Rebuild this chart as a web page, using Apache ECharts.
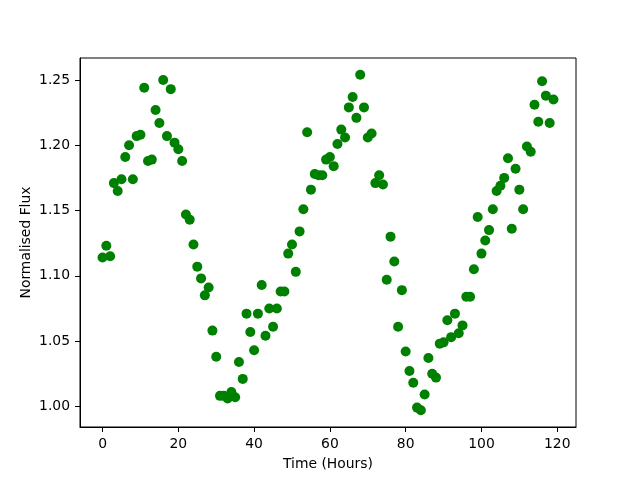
<!DOCTYPE html>
<html>
<head>
<meta charset="utf-8">
<script src="https://cdn.jsdelivr.net/npm/echarts@6/dist/echarts.min.js"></script>
<style>
  html, body { margin: 0; padding: 0; background: #fff; }
  #chart { width: 640px; height: 480px; }
</style>
</head>
<body>
<div id="chart"></div>
<script>
// hours 0..119
const hours = Array.from({ length: 120 }, (_, i) => i)

// normalised flux
const flux = [
  1.114, 1.123, 1.115, 1.171, 1.165, 1.174, 1.191, 1.200, 1.174, 1.207,
  1.208, 1.244, 1.188, 1.189, 1.227, 1.217, 1.250, 1.207, 1.243, 1.202,
  1.197, 1.188, 1.147, 1.143, 1.124, 1.107, 1.098, 1.085, 1.091, 1.058,
  1.038, 1.008, 1.008, 1.006, 1.011, 1.007, 1.034, 1.021, 1.071, 1.057,
  1.043, 1.071, 1.093, 1.054, 1.075, 1.061, 1.075, 1.088, 1.088, 1.117,
  1.124, 1.103, 1.134, 1.151, 1.210, 1.166, 1.178, 1.177, 1.177, 1.189,
  1.191, 1.184, 1.201, 1.212, 1.206, 1.229, 1.237, 1.221, 1.254, 1.229,
  1.206, 1.209, 1.171, 1.177, 1.170, 1.097, 1.130, 1.111, 1.061, 1.089,
  1.042, 1.027, 1.018, 0.999, 0.997, 1.009, 1.037, 1.025, 1.022, 1.048,
  1.049, 1.066, 1.053, 1.071, 1.056, 1.062, 1.084, 1.084, 1.105, 1.145,
  1.117, 1.127, 1.135, 1.151, 1.165, 1.169, 1.175, 1.190, 1.136, 1.182,
  1.166, 1.151, 1.199, 1.195, 1.231, 1.218, 1.249, 1.238, 1.217, 1.235
]

const xTicks = [0, 20, 40, 60, 80, 100, 120]
const yTicks = [1.00, 1.05, 1.10, 1.15, 1.20, 1.25]

const points = hours.map((h, i) => [h, flux[i]])

// matplotlib style 5% margins
const xPad = (hours[hours.length - 1] - hours[0]) * 0.05
const yMin = Math.min(...flux)
const yMax = Math.max(...flux)
const yPad = (yMax - yMin) * 0.05

const font = 'DejaVu Sans'
const chart = echarts.init(document.getElementById('chart'))

chart.setOption({
  animation: false,
  grid: {
    left: 80,
    right: 64,
    top: 58,
    bottom: 53,
    show: true,
    borderColor: '#000',
    borderWidth: 1,
    containLabel: false
  },
  xAxis: {
    type: 'value',
    min: hours[0] - xPad,
    max: hours[hours.length - 1] + xPad,
    name: 'Time (Hours)',
    nameLocation: 'middle',
    nameGap: 30,
    nameMoveOverlap: false,
    nameTextStyle: { color: '#000', fontFamily: font, fontSize: 13.9 },
    splitLine: { show: false },
    axisLine: { show: true, onZero: false, lineStyle: { color: '#000', width: 1 } },
    axisTick: {
      show: true,
      length: 5,
      customValues: xTicks,
      lineStyle: { color: '#000', width: 1 }
    },
    axisLabel: {
      customValues: xTicks,
      color: '#000',
      fontFamily: font,
      fontSize: 13.9,
      margin: 10
    }
  },
  yAxis: {
    type: 'value',
    min: yMin - yPad,
    max: yMax + yPad,
    name: 'Normalised Flux',
    nameLocation: 'middle',
    nameGap: 47,
    nameMoveOverlap: false,
    nameTextStyle: { color: '#000', fontFamily: font, fontSize: 13.9 },
    splitLine: { show: false },
    axisLine: { show: true, onZero: false, lineStyle: { color: '#000', width: 1 } },
    axisTick: {
      show: true,
      length: 5,
      customValues: yTicks,
      lineStyle: { color: '#000', width: 1 }
    },
    axisLabel: {
      customValues: yTicks,
      formatter: v => v.toFixed(2),
      color: '#000',
      fontFamily: font,
      fontSize: 13.9,
      margin: 10
    }
  },
  series: [{
    type: 'scatter',
    data: points,
    symbol: 'circle',
    symbolSize: 10,
    itemStyle: { color: '#008000', opacity: 1 }
  }]
})
</script>
</body>
</html>
